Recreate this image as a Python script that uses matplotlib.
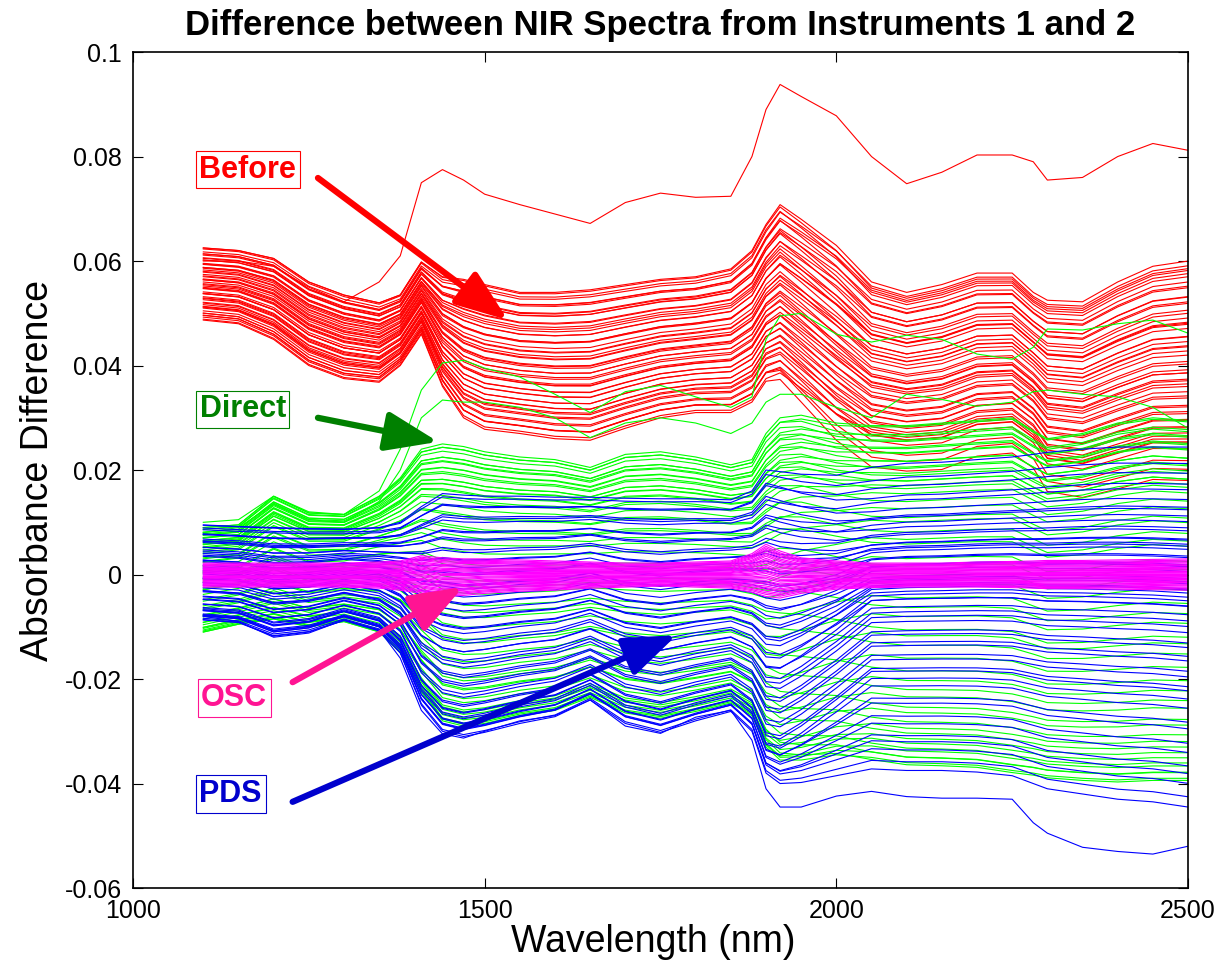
import numpy as np
import matplotlib
matplotlib.use("Agg")
import matplotlib.pyplot as plt

plt.rcParams['font.family'] = ['Liberation Sans', 'DejaVu Sans']

# wavelength knots (nm) shared by every spectrum
wavelength = [1100, 1150, 1200, 1250, 1300, 1350, 1380, 1410, 1440, 1470,
              1500, 1550, 1600, 1650, 1700, 1750, 1800, 1850, 1880, 1900,
              1920, 1950, 2000, 2050, 2100, 2150, 2200, 2250, 2280, 2300,
              2350, 2400, 2450, 2500]

# how far each spectrum has moved from its short-wave to its long-wave ordering
order_shift = [0, 0, 0, 0, 0, 0, 0, 0, 0, 0,
               0, 0, 0, 0, 0, 0, 0, 0, 0, 0,
               0.1, 0.3, 0.65, 1, 1, 1, 1, 1, 1, 1,
               1, 1, 1, 1]

# small per-sample baseline offsets
baseline = [0.0000, 0.0003, -0.0002, 0.0005, -0.0004, 0.0001, 0.0004, -0.0005, 0.0002, -0.0001,
            0.0005, -0.0003, 0.0001, -0.0004, 0.0003, 0.0000, -0.0002, 0.0004, -0.0005, 0.0002,
            0.0005, -0.0001, -0.0004, 0.0003, 0.0000, -0.0003, 0.0004, -0.0005, 0.0002, 0.0003,
            -0.0001, 0.0002, -0.0004, 0.0005, -0.0002, 0.0001, 0.0003, -0.0003, 0.0002, -0.0001,
            0.0004, -0.0002, 0.0001, -0.0004, 0.0002, 0.0000, 0.0003, -0.0003, 0.0005, -0.0002,
            0.0001, -0.0004, 0.0002, 0.0004, -0.0001, 0.0000]

# ---- before correction (red) ----
before_top = [0.0625, 0.0620, 0.0605, 0.0560, 0.0535, 0.0520, 0.0535, 0.0598, 0.0570, 0.0565,
              0.0555, 0.0540, 0.0540, 0.0545, 0.0555, 0.0565, 0.0570, 0.0585, 0.0620, 0.0670,
              0.0708, 0.0680, 0.0630, 0.0560, 0.0540, 0.0555, 0.0577, 0.0577, 0.0540, 0.0525,
              0.0522, 0.0560, 0.0590, 0.0600]
before_bottom = [0.0487, 0.0480, 0.0450, 0.0400, 0.0375, 0.0368, 0.0400, 0.0460, 0.0360, 0.0300,
                 0.0278, 0.0270, 0.0260, 0.0257, 0.0280, 0.0300, 0.0310, 0.0310, 0.0330, 0.0370,
                 0.0380, 0.0350, 0.0300, 0.0265, 0.0255, 0.0260, 0.0285, 0.0290, 0.0260, 0.0220,
                 0.0210, 0.0230, 0.0250, 0.0250]
before_odd = [0.0600, 0.0600, 0.0590, 0.0550, 0.0522, 0.0560, 0.0610, 0.0750, 0.0775, 0.0755,
              0.0728, 0.0708, 0.0690, 0.0672, 0.0712, 0.0730, 0.0722, 0.0724, 0.0800, 0.0890,
              0.0938, 0.0915, 0.0878, 0.0800, 0.0748, 0.0770, 0.0803, 0.0803, 0.0790, 0.0755,
              0.0760, 0.0800, 0.0825, 0.0812]
before_pos_short = [0.00, 0.02, 0.04, 0.05, 0.07, 0.09, 0.11, 0.13, 0.15, 0.16,
                    0.18, 0.20, 0.22, 0.24, 0.25, 0.27, 0.29, 0.31, 0.33, 0.35,
                    0.36, 0.38, 0.40, 0.42, 0.44, 0.45, 0.47, 0.49, 0.51, 0.53,
                    0.55, 0.56, 0.58, 0.60, 0.62, 0.64, 0.65, 0.67, 0.69, 0.71,
                    0.73, 0.75, 0.76, 0.78, 0.80, 0.82, 0.84, 0.85, 0.87, 0.89,
                    0.91, 0.93, 0.95, 0.96, 0.98, 1.00]
before_pos_long = [0.00, 0.05, 0.02, 0.10, 0.04, 0.14, 0.08, 0.18, 0.12, 0.22,
                   0.16, 0.26, 0.20, 0.30, 0.24, 0.34, 0.28, 0.38, 0.32, 0.42,
                   0.36, 0.46, 0.40, 0.50, 0.44, 0.54, 0.48, 0.58, 0.52, 0.62,
                   0.56, 0.66, 0.60, 0.70, 0.64, 0.74, 0.68, 0.78, 0.72, 0.82,
                   0.76, 0.86, 0.80, 0.90, 0.84, 0.94, 0.88, 0.98, 0.92, 1.02,
                   0.96, 1.08, 1.00, 1.15, 0.97, 1.20]

# ---- direct standardisation (green) ----
direct_top = [0.0090, 0.0095, 0.0150, 0.0118, 0.0115, 0.0150, 0.0185, 0.0240, 0.0250, 0.0245,
              0.0235, 0.0225, 0.0220, 0.0205, 0.0230, 0.0235, 0.0225, 0.0210, 0.0220, 0.0270,
              0.0300, 0.0305, 0.0290, 0.0285, 0.0285, 0.0290, 0.0295, 0.0300, 0.0275, 0.0260,
              0.0270, 0.0290, 0.0300, 0.0295]
direct_bottom = [-0.0110, -0.0095, -0.0085, -0.0100, -0.0090, -0.0110, -0.0150, -0.0225, -0.0280, -0.0290,
                 -0.0285, -0.0270, -0.0260, -0.0235, -0.0265, -0.0275, -0.0262, -0.0246, -0.0270, -0.0330,
                 -0.0355, -0.0355, -0.0345, -0.0350, -0.0360, -0.0362, -0.0365, -0.0375, -0.0380, -0.0385,
                 -0.0390, -0.0393, -0.0390, -0.0390]
direct_odd_1 = [0.0100, 0.0105, 0.0150, 0.0120, 0.0115, 0.0160, 0.0240, 0.0353, 0.0405, 0.0410,
                0.0395, 0.0378, 0.0345, 0.0310, 0.0350, 0.0362, 0.0340, 0.0320, 0.0340, 0.0450,
                0.0495, 0.0500, 0.0460, 0.0445, 0.0458, 0.0450, 0.0422, 0.0412, 0.0435, 0.0470,
                0.0468, 0.0480, 0.0487, 0.0462]
direct_odd_2 = [0.0080, 0.0090, 0.0135, 0.0105, 0.0100, 0.0140, 0.0200, 0.0300, 0.0334, 0.0330,
                0.0330, 0.0320, 0.0300, 0.0262, 0.0290, 0.0300, 0.0290, 0.0270, 0.0290, 0.0330,
                0.0345, 0.0345, 0.0320, 0.0300, 0.0345, 0.0335, 0.0322, 0.0330, 0.0350, 0.0353,
                0.0345, 0.0340, 0.0320, 0.0280]
direct_pos_short = [0.00, 0.01, 0.02, 0.03, 0.04, 0.05, 0.06, 0.07, 0.08, 0.09,
                    0.10, 0.11, 0.12, 0.13, 0.14, 0.15, 0.16, 0.17, 0.18, 0.20,
                    0.22, 0.24, 0.26, 0.28, 0.30, 0.32, 0.35, 0.38, 0.41, 0.44,
                    0.47, 0.50, 0.53, 0.56, 0.59, 0.62, 0.65, 0.68, 0.71, 0.74,
                    0.77, 0.80, 0.82, 0.84, 0.86, 0.88, 0.90, 0.92, 0.94, 0.95,
                    0.96, 0.97, 0.98, 0.99, 0.995, 1.00]
direct_pos_long = [0.00, 0.03, 0.01, 0.05, 0.02, 0.07, 0.04, 0.09, 0.06, 0.11,
                   0.08, 0.13, 0.10, 0.15, 0.12, 0.17, 0.14, 0.19, 0.16, 0.23,
                   0.18, 0.27, 0.21, 0.31, 0.25, 0.35, 0.29, 0.42, 0.33, 0.48,
                   0.39, 0.54, 0.45, 0.60, 0.51, 0.66, 0.57, 0.72, 0.63, 0.78,
                   0.69, 0.84, 0.75, 0.88, 0.80, 0.92, 0.85, 0.96, 0.89, 0.99,
                   0.93, 1.00, 0.95, 0.98, 0.97, 1.00]

# ---- piecewise direct standardisation (blue) ----
pds_top = [0.0095, 0.0092, 0.0090, 0.0088, 0.0087, 0.0090, 0.0100, 0.0130, 0.0155, 0.0152,
           0.0150, 0.0150, 0.0148, 0.0148, 0.0146, 0.0145, 0.0145, 0.0143, 0.0160, 0.0200,
           0.0197, 0.0192, 0.0190, 0.0205, 0.0213, 0.0215, 0.0220, 0.0225, 0.0230, 0.0234,
           0.0240, 0.0244, 0.0244, 0.0244]
pds_bottom = [-0.0087, -0.0092, -0.0118, -0.0110, -0.0088, -0.0108, -0.0150, -0.0250, -0.0300, -0.0310,
              -0.0302, -0.0285, -0.0272, -0.0240, -0.0285, -0.0302, -0.0280, -0.0262, -0.0300, -0.0380,
              -0.0400, -0.0398, -0.0385, -0.0372, -0.0375, -0.0375, -0.0378, -0.0385, -0.0400, -0.0410,
              -0.0420, -0.0430, -0.0435, -0.0445]
pds_odd = [-0.0080, -0.0090, -0.0120, -0.0112, -0.0087, -0.0106, -0.0160, -0.0260, -0.0305, -0.0313,
           -0.0300, -0.0280, -0.0270, -0.0240, -0.0290, -0.0304, -0.0273, -0.0260, -0.0317, -0.0410,
           -0.0445, -0.0445, -0.0424, -0.0415, -0.0425, -0.0428, -0.0428, -0.0430, -0.0475, -0.0495,
           -0.0522, -0.0530, -0.0535, -0.0520]
pds_pos_short = [0.00, 0.02, 0.04, 0.06, 0.08, 0.10, 0.12, 0.14, 0.16, 0.18,
                 0.20, 0.22, 0.24, 0.26, 0.28, 0.30, 0.32, 0.34, 0.36, 0.38,
                 0.40, 0.42, 0.44, 0.46, 0.48, 0.50, 0.52, 0.54, 0.56, 0.58,
                 0.60, 0.62, 0.64, 0.66, 0.68, 0.70, 0.72, 0.74, 0.76, 0.78,
                 0.80, 0.82, 0.84, 0.86, 0.88, 0.90, 0.91, 0.92, 0.93, 0.94,
                 0.95, 0.96, 0.97, 0.98, 0.99, 1.00]
pds_pos_long = [0.00, 0.05, 0.10, 0.08, 0.14, 0.12, 0.18, 0.16, 0.21, 0.19,
                0.24, 0.22, 0.26, 0.25, 0.28, 0.27, 0.30, 0.29, 0.32, 0.31,
                0.34, 0.33, 0.36, 0.35, 0.38, 0.37, 0.40, 0.39, 0.42, 0.41,
                0.44, 0.43, 0.46, 0.45, 0.48, 0.50, 0.52, 0.54, 0.56, 0.58,
                0.60, 0.62, 0.64, 0.66, 0.68, 0.70, 0.73, 0.76, 0.79, 0.82,
                0.85, 0.88, 0.91, 0.94, 0.97, 1.00]

# ---- orthogonal signal correction (magenta) ----
osc_top = [0.0022, 0.0022, 0.0022, 0.0022, 0.0022, 0.0024, 0.0026, 0.0036, 0.0032, 0.0030,
           0.0030, 0.0028, 0.0026, 0.0024, 0.0022, 0.0022, 0.0024, 0.0026, 0.0040, 0.0058,
           0.0045, 0.0032, 0.0026, 0.0022, 0.0022, 0.0022, 0.0024, 0.0025, 0.0026, 0.0027,
           0.0027, 0.0028, 0.0029, 0.0030]
osc_bottom = [-0.0024, -0.0024, -0.0024, -0.0024, -0.0024, -0.0026, -0.0030, -0.0036, -0.0042, -0.0040,
              -0.0036, -0.0032, -0.0030, -0.0026, -0.0024, -0.0022, -0.0024, -0.0026, -0.0034, -0.0042,
              -0.0045, -0.0036, -0.0028, -0.0025, -0.0024, -0.0024, -0.0024, -0.0025, -0.0026, -0.0027,
              -0.0027, -0.0028, -0.0029, -0.0030]
osc_pos = [0.00, 0.04, 0.07, 0.10, 0.13, 0.17, 0.20, 0.23, 0.27, 0.30,
           0.33, 0.36, 0.40, 0.43, 0.46, 0.50, 0.53, 0.56, 0.60, 0.63,
           0.66, 0.70, 0.73, 0.76, 0.80, 0.83, 0.86, 0.90, 0.93, 0.96, 1.00]

wl = np.array(wavelength)
shift = np.array(order_shift)


def spectra(top, bottom, pos_short, pos_long, offsets=None):
    top, bottom = np.array(top), np.array(bottom)
    if offsets is None:
        offsets = [0.0] * len(pos_short)
    out = []
    for a, b, off in zip(pos_short, pos_long, offsets):
        t = a + shift * (b - a)
        out.append(top + t * (bottom - top) + off)
    return out


fig = plt.figure(figsize=(12.21, 9.64), dpi=100)
ax = fig.add_axes([0.1089, 0.0788, 0.8641, 0.8672])

lw = 0.8
for y in spectra(before_top, before_bottom, before_pos_short, before_pos_long, baseline):
    ax.plot(wl, y, color='#ff0000', lw=lw)
ax.plot(wl, before_odd, color='#ff0000', lw=lw)

for y in spectra(direct_top, direct_bottom, direct_pos_short, direct_pos_long, baseline[::-1]):
    ax.plot(wl, y, color='#00ff00', lw=lw)
ax.plot(wl, direct_odd_1, color='#00ff00', lw=lw)
ax.plot(wl, direct_odd_2, color='#00ff00', lw=lw)

for y in spectra(pds_top, pds_bottom, pds_pos_short, pds_pos_long, baseline):
    ax.plot(wl, y, color='#0000ff', lw=lw)
ax.plot(wl, pds_odd, color='#0000ff', lw=lw)

for y in spectra(osc_top, osc_bottom, osc_pos, osc_pos):
    ax.plot(wl, y, color='#ff00ff', lw=lw)

ax.set_xlim(1000, 2500)
ax.set_ylim(-0.06, 0.1)
ax.set_xticks([1000, 1500, 2000, 2500])
ax.set_yticks([-0.06, -0.04, -0.02, 0, 0.02, 0.04, 0.06, 0.08, 0.1])
ax.set_yticklabels(['-0.06', '-0.04', '-0.02', '0', '0.02', '0.04', '0.06', '0.08', '0.1'])
ax.tick_params(direction='in', length=7, width=0.8, top=True, right=True,
               labelsize=18, pad=8)
for sp in ax.spines.values():
    sp.set_linewidth(1.2)

ax.set_title('Difference between NIR Spectra from Instruments 1 and 2',
             fontsize=25, fontweight='bold', pad=12)
ax.set_xlabel('Wavelength (nm)', fontsize=27)
ax.xaxis.set_label_coords(0.493, -0.043)
ax.set_ylabel('Absorbance Difference', fontsize=27, labelpad=6)

# labelled arrows pointing at each group of spectra
notes = [
    ('Before', '#ff0000', (1163, 0.0775), (1263, 0.0759), (1533, 0.0487)),
    ('Direct', '#008000', (1156, 0.0316), (1263, 0.0300), (1434, 0.0254)),
    ('OSC', '#ff1493', (1144, -0.0236), (1227, -0.0206), (1469, -0.0024)),
    ('PDS', '#0000cd', (1139, -0.0420), (1227, -0.0435), (1773, -0.0116)),
]
for text, c, txt_xy, tail, tip in notes:
    ax.annotate('', xy=tip, xytext=tail,
                arrowprops=dict(arrowstyle='-|>,head_length=0.32,head_width=0.12',
                                mutation_scale=100, lw=4.5, color=c,
                                shrinkA=0, shrinkB=0))
    ax.text(txt_xy[0], txt_xy[1], text, color=c, fontsize=22, fontweight='bold',
            ha='center', va='center',
            bbox=dict(boxstyle='square,pad=0.12', fc='white', ec=c, lw=0.8))

fig.savefig('out.png', dpi=100)
